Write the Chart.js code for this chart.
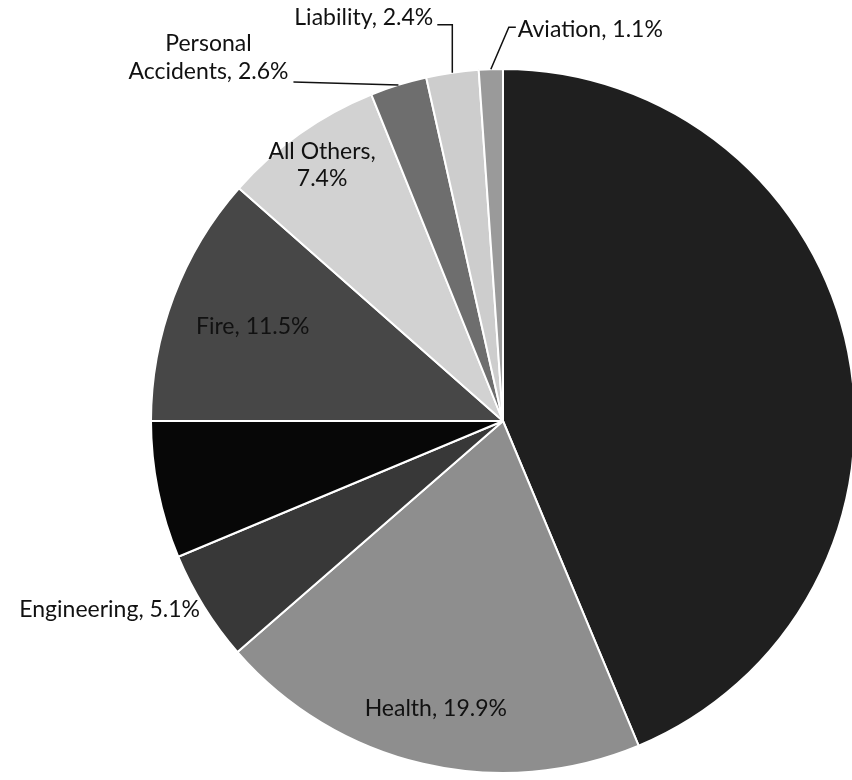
<!DOCTYPE html>
<html>
<head>
<meta charset="utf-8">
<script src="https://cdn.jsdelivr.net/npm/chart.js@4/dist/chart.umd.min.js"></script>
<style>
  html, body { margin: 0; padding: 0; background: #fff; overflow: hidden; }
  #wrap { width: 860px; height: 780px; position: relative; }
</style>
</head>
<body>
<div id="wrap"><canvas id="pie"></canvas></div>
<script>
// Share of premium by line of business (%), clockwise from 12 o'clock
const categories = ['Motor', 'Health', 'Engineering', 'Marine', 'Fire', 'All Others', 'Personal Accidents', 'Liability', 'Aviation'];
const shares = [43.7, 19.9, 5.1, 6.3, 11.5, 7.4, 2.6, 2.4, 1.1];
const sliceColors = ['#1f1f1f', '#8e8e8e', '#383838', '#070707', '#474747', '#d2d2d2', '#6e6e6e', '#cdcdcd', '#9a9a9a'];

// how each label is placed (null = no visible label)
const labelSpec = [
  null,
  { mode: 'inside', r: 0.84 },
  { mode: 'outside', dx: -4, dy: 3, align: 'right' },
  null,
  { mode: 'inside', r: 0.76 },
  { mode: 'inside', r: 0.89, wrap: 'comma' },
  { mode: 'leader', wrap: 'word', align: 'center', tx: -190, ty: -41, path: [[-105, -3]] },
  { mode: 'leader', align: 'right', tx: -19, ty: -55, path: [[0, -48], [-15, -48]] },
  { mode: 'leader', align: 'left', tx: 27, ty: -40, path: [[18, -42], [25, -42]] }
];

const labelLines = (i, wrap) => {
  const pct = shares[i].toFixed(1) + '%';
  const name = categories[i];
  if (wrap === 'comma') return [name + ',', pct];
  if (wrap === 'word') {
    const k = name.indexOf(' ');
    return [name.slice(0, k), name.slice(k + 1) + ', ' + pct];
  }
  return [name + ', ' + pct];
};

const sliceLabels = {
  id: 'sliceLabels',
  afterDatasetsDraw(chart) {
    const ctx = chart.ctx;
    const meta = chart.getDatasetMeta(0);
    const lineH = 27;
    ctx.save();
    ctx.font = '23px Lato, "Open Sans", sans-serif';
    ctx.textBaseline = 'middle';
    ctx.fillStyle = '#111';
    ctx.strokeStyle = '#111';
    ctx.lineWidth = 1.5;
    meta.data.forEach((arc, i) => {
      const spec = labelSpec[i];
      if (!spec) return;
      const p = arc.getProps(['x', 'y', 'startAngle', 'endAngle', 'outerRadius'], true);
      const mid = (p.startAngle + p.endAngle) / 2;
      const lines = labelLines(i, spec.wrap);
      if (spec.mode === 'inside') {
        const cx = p.x + Math.cos(mid) * p.outerRadius * spec.r;
        const cy = p.y + Math.sin(mid) * p.outerRadius * spec.r;
        ctx.textAlign = 'center';
        lines.forEach((t, k) => ctx.fillText(t, cx, cy + (k - (lines.length - 1) / 2) * lineH));
        return;
      }
      const ox = p.x + Math.cos(mid) * p.outerRadius;
      const oy = p.y + Math.sin(mid) * p.outerRadius;
      if (spec.mode === 'outside') {
        ctx.textAlign = spec.align;
        ctx.fillText(lines[0], ox + spec.dx, oy + spec.dy);
        return;
      }
      // leader line from slice edge to label
      ctx.beginPath();
      ctx.moveTo(ox, oy);
      spec.path.forEach(([dx, dy]) => ctx.lineTo(ox + dx, oy + dy));
      ctx.stroke();
      ctx.textAlign = spec.align;
      lines.forEach((t, k) => ctx.fillText(t, ox + spec.tx, oy + spec.ty + k * 28));
    });
    ctx.restore();
  }
};

new Chart(document.getElementById('pie'), {
  type: 'pie',
  data: {
    labels: categories,
    datasets: [{
      data: shares,
      backgroundColor: sliceColors,
      borderColor: '#ffffff',
      borderWidth: 2
    }]
  },
  options: {
    responsive: true, maintainAspectRatio: false,
    animation: false,
    layout: { padding: { left: 149, right: 3, top: 68, bottom: 6 } },
    plugins: { legend: { display: false }, tooltip: { enabled: false } }
  },
  plugins: [sliceLabels]
});
</script>
</body>
</html>
